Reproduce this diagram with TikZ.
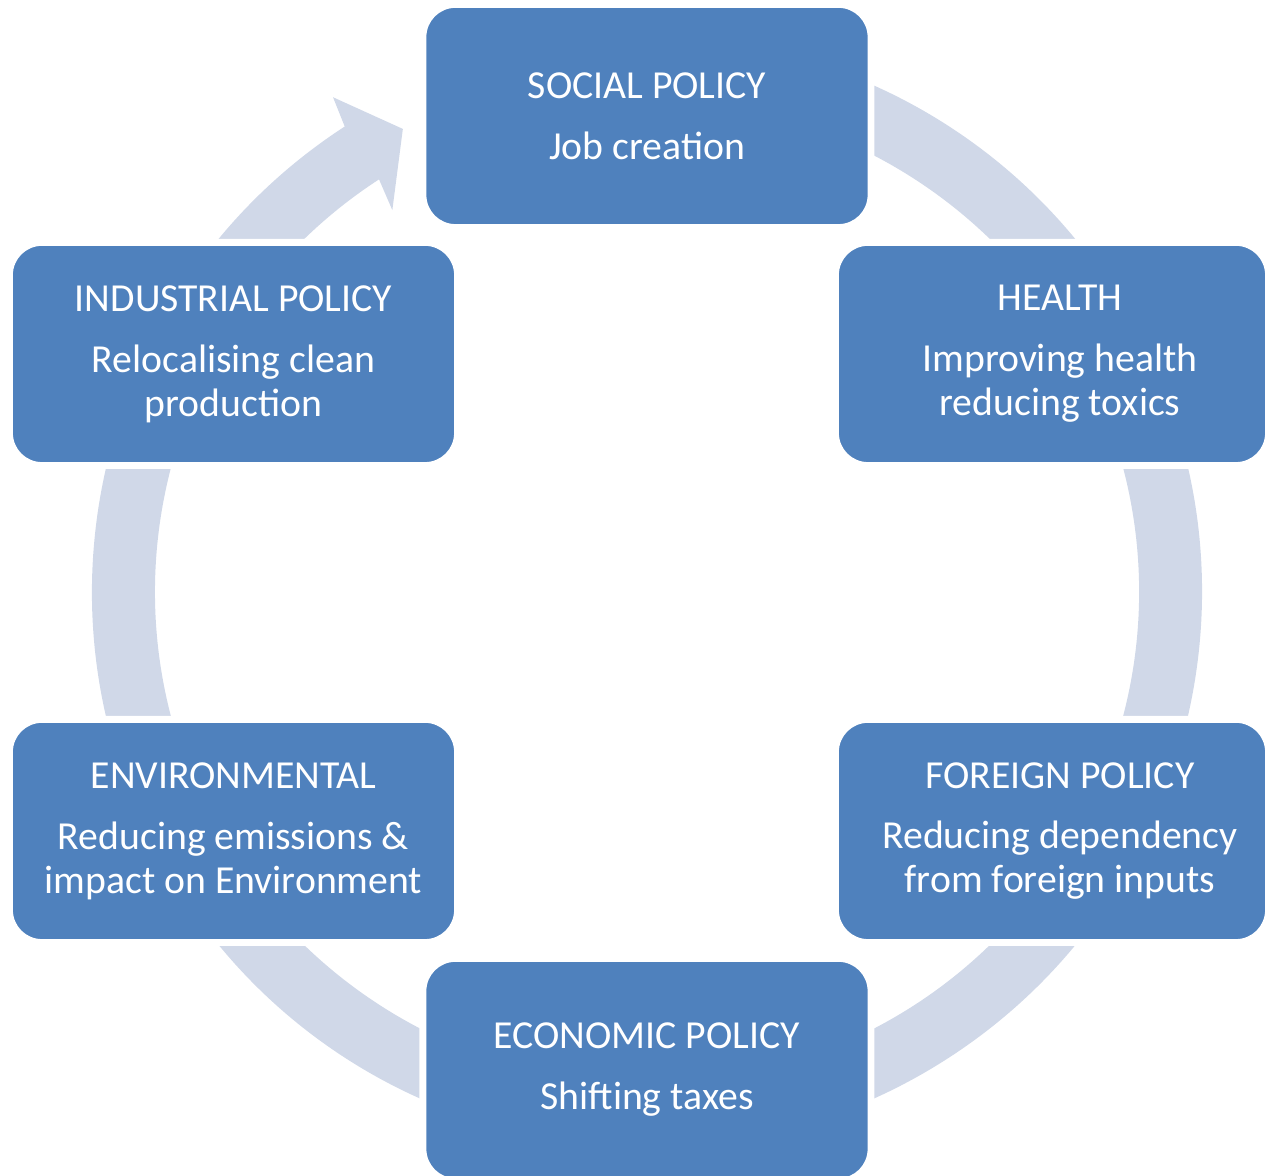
\documentclass[tikz,border=0pt]{standalone}
\usepackage{fontspec}
\setmainfont{Carlito}
\definecolor{boxblue}{HTML}{4F81BD}
\definecolor{ringgray}{HTML}{D0D8E8}
\begin{document}
\begin{tikzpicture}[policytext/.style={align=center, text=white, font=\fontsize{11.3}{12.5}\selectfont, inner sep=0pt},
	policy/.style={rectangle, policytext, fill=boxblue, draw=white, line width=.5pt, rounded corners=.3cm, minimum width=4.43cm, minimum height=2.18cm, outer sep=0pt, preaction={draw=white, line width=.12cm}},
	narrow/.style={minimum width=4.28cm}]
	\useasboundingbox (-6.47,-5.84) rectangle (6.19,5.92);
	% cycle arrow behind the boxes
	\fill[ringgray] (123:5.55) arc[start angle=123, end angle=470, radius=5.55] -- (470:4.92) arc[start angle=470, end angle=123, radius=4.92] -- (123.7:4.59) -- (117.8:5.235) -- (122.4:5.86) -- cycle;
	\node[policy] (socialpolicy) at (0, 4.76) {SOCIAL POLICY\\[.17cm]Job creation};
	\node[policy, narrow, label={[policytext, xshift=.08cm]center:HEALTH\\[.17cm]Improving health\\reducing toxics}] (health) at (4.05, 2.38) {};
	\node[policy, narrow, label={[policytext, xshift=.08cm]center:FOREIGN POLICY\\[.17cm]Reducing dependency\\from foreign inputs}] (foreignpolicy) at (4.05, -2.39) {};
	\node[policy] (economicpolicy) at (0, -4.78) {ECONOMIC POLICY\\[.17cm]Shifting taxes};
	\node[policy] (environmental) at (-4.135, -2.39) {ENVIRONMENTAL\\[.17cm]Reducing emissions \&\\impact on Environment};
	\node[policy] (industrialpolicy) at (-4.135, 2.38) {INDUSTRIAL POLICY\\[.17cm]Relocalising clean\\production};
\end{tikzpicture}
\end{document}
